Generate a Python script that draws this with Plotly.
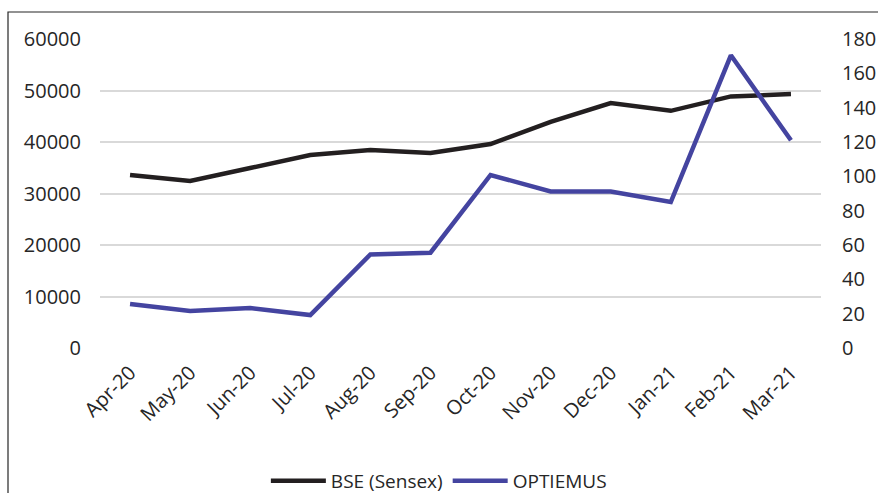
import plotly.graph_objects as go

months = ["Apr-20", "May-20", "Jun-20", "Jul-20", "Aug-20", "Sep-20",
          "Oct-20", "Nov-20", "Dec-20", "Jan-21", "Feb-21", "Mar-21"]
bse = [33600, 32450, 34950, 37480, 38450, 37860, 39600, 43900, 47570, 46050, 48850, 49300]
optiemus = [25.6, 21.5, 23.3, 19.2, 54.5, 55.5, 100.8, 91.2, 91.2, 85.0, 170.5, 121.0]

left_ticks = [0, 10000, 20000, 30000, 40000, 50000, 60000]
right_ticks = [0, 20, 40, 60, 80, 100, 120, 140, 160, 180]

font_family = "Open Sans, Liberation Sans, sans-serif"

fig = go.Figure()
fig.add_trace(go.Scatter(x=months, y=bse, name="BSE (Sensex)", mode="lines",
                         line=dict(color="#231f20", width=4.5)))
fig.add_trace(go.Scatter(x=months, y=optiemus, name="OPTIEMUS", mode="lines",
                         line=dict(color="#4444a0", width=4.5), yaxis="y2"))

fig.update_layout(
    width=878, height=493,
    margin=dict(l=100, r=57, t=39, b=145, autoexpand=False),
    paper_bgcolor="white", plot_bgcolor="white",
    font=dict(family=font_family, size=20, color="#262626"),
    showlegend=True,
    legend=dict(orientation="h", x=0.47, xanchor="center", y=-0.43, yanchor="middle",
                font=dict(size=19, color="#262626"), itemwidth=55, tracegroupgap=0),
    xaxis=dict(type="category", tickangle=-45, showgrid=False, showline=False,
               range=[-0.5, len(months) - 0.5], automargin=False,
               ticks="", tickfont=dict(size=20), ticklabelstandoff=8),
    yaxis=dict(range=[0, 60000], tickvals=left_ticks, ticktext=[str(v) for v in left_ticks],
               showgrid=True, gridcolor="#d9d9d9", gridwidth=1.5, zeroline=False,
               showline=False, ticks="", ticklabelstandoff=18, automargin=False),
    yaxis2=dict(range=[0, 180], tickvals=right_ticks, ticktext=[str(v) for v in right_ticks],
                overlaying="y", side="right", showgrid=False, zeroline=False,
                showline=False, ticks="", ticklabelstandoff=20, automargin=False),
    shapes=[dict(type="rect", xref="paper", yref="paper",
                 x0=(8 - 100) / 721, x1=1.3, y0=-0.6, y1=(348 - 12) / 309,
                 line=dict(color="#262626", width=1.2), fillcolor="rgba(0,0,0,0)",
                 layer="below")],
)

fig.write_html("out.html", config={"displayModeBar": False},
               post_script="document.body.style.margin='0px';document.body.style.overflow='hidden';")
